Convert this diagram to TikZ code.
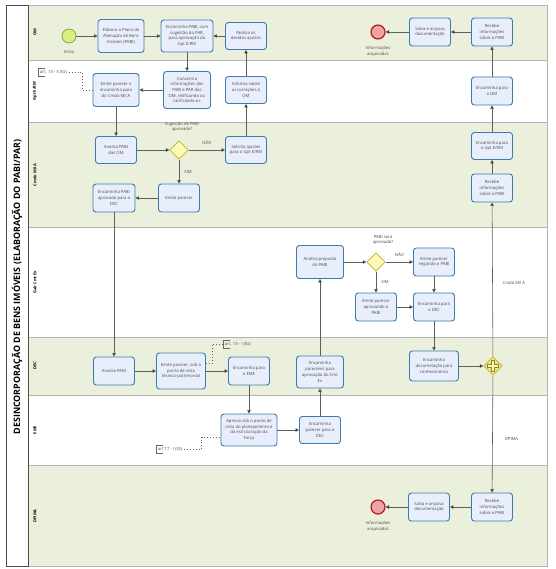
\documentclass[tikz,border=0pt]{standalone}
\usepackage{fontspec}
\setmainfont{Open Sans}
\usepackage{tikz}
\usetikzlibrary{arrows.meta,calc,positioning,shapes.geometric}
\definecolor{lanegreen}{HTML}{EBF0DD}
\definecolor{laneline}{HTML}{B4B4B4}
\definecolor{taskfill}{HTML}{E9EEFC}
\definecolor{taskline}{HTML}{3B7CAE}
\definecolor{gwfill}{HTML}{FCFAB4}
\definecolor{gwline}{HTML}{C2B12E}
\definecolor{startfill}{HTML}{D9F07E}
\definecolor{startline}{HTML}{7BA33A}
\definecolor{endfill}{HTML}{EFA3A3}
\definecolor{endline}{HTML}{B0191E}
\definecolor{flowline}{HTML}{5E5E5E}

\begin{document}
\begin{tikzpicture}[x=0.03cm,y=-0.03cm,
  lane/.style={draw=laneline,line width=0.5pt},
  lanelbl/.style={rotate=90,font=\bfseries\fontsize{3.4}{4}\selectfont},
  task/.style={draw=taskline,fill=taskfill,line width=0.8pt,rounded corners=2.5pt,align=center,
    minimum width=1.23cm,minimum height=0.84cm,inner sep=0.5pt,text=black!70,font=\fontsize{3.6}{4.9}\selectfont},
  gateway/.style={diamond,aspect=1,draw=gwline,fill=gwfill,line width=0.6pt,minimum size=0.56cm,inner sep=0pt},
  startev/.style={circle,draw=startline,fill=startfill,line width=0.6pt,minimum size=0.42cm,inner sep=0pt},
  endev/.style={circle,draw=endline,fill=endfill,line width=1pt,minimum size=0.42cm,inner sep=0pt},
  small/.style={text=black!70,align=center,font=\fontsize{3.6}{4.9}\selectfont},
  flow/.style={draw=flowline,line width=0.5pt,-{Triangle[length=3pt,width=3pt,fill=black]}},
  assoc/.style={draw=black!60,line width=0.5pt,dotted},
  annbr/.style={draw=black!60,line width=0.6pt},
  annot/.style={small,anchor=west,inner sep=1.5pt}]
\useasboundingbox (0,0) rectangle (555,569);
\fill[white] (0,0) rectangle (555,569);
\draw[lane,fill=lanegreen] (28,5) rectangle (547,60);
\draw[lane,fill=white] (28,60) rectangle (547,122);
\draw[lane,fill=lanegreen] (28,122) rectangle (547,227);
\draw[lane,fill=white] (28,227) rectangle (547,337);
\draw[lane,fill=lanegreen] (28,337) rectangle (547,395);
\draw[lane,fill=white] (28,395) rectangle (547,465);
\draw[lane,fill=lanegreen] (28,465) rectangle (547,566);
\draw[black!70,line width=0.6pt] (6,5) rectangle (28,566);
\node[rotate=90,font=\bfseries\fontsize{7.6}{9}\selectfont] (title) at (17,287) {DESINCORPORAÇÃO DE BENS IMÓVEIS (ELABORAÇÃO DO PABI/PAR)};
\node[lanelbl] (lom) at (35,32) {OM};
\node[lanelbl] (lgpt) at (35,91) {Gpt E/RM};
\node[lanelbl] (lcmdo) at (35,175) {Cmdo Mil A};
\node[lanelbl] (lgab) at (35,282) {Gab Cmt Ex};
\node[lanelbl] (ldec) at (35,366) {DEC};
\node[lanelbl] (leme) at (35,430) {EME};
\node[lanelbl] (ldpima) at (35,516) {DPIMA};

\node[startev] (inicio) at (69,36) {};
\node[small,below=2pt of inicio] {Início};
\node[task,minimum width=1.38cm,minimum height=0.99cm] (elab) at (121,36) {Elabora o Plano de\\Alienação de Bens\\Imóveis (PABI)};
\node[task,minimum width=1.56cm,minimum height=0.96cm] (encpabi) at (187,36) {Encaminha PABI, com\\sugestão do PAR,\\para aprovação do\\Gpt E/RM};
\node[task,minimum height=0.81cm] (realiza) at (246,36) {Realiza os\\devidos ajustes};
\node[task] (salvaom) at (430,32) {Salva e arquiva\\documentação};
\node[task] (recebeom) at (492,32) {Recebe\\informações\\sobre o PABI};
\node[endev] (fimom) at (378,32) {};
\node[small,below=2pt of fimom] {Informações\\arquivadas};

\node[task,minimum width=1.41cm,minimum height=1.11cm] (concentra) at (187,90) {Concentra\\informações dos\\PABI e PAR das\\OM, retificando ou\\ratificando-os};
\node[task,minimum width=1.38cm,minimum height=0.99cm] (emitegpt) at (116,90) {Emite parecer e\\encaminha para\\do Cmdo Mil A};
\node[task,minimum height=0.81cm] (informa) at (246,90) {Informa sobre\\as correções à\\OM};
\node[task] (encom) at (492,91) {Encaminha para\\a OM};
\node[annot] (a13) at (38,72.5) {art. 13 - X (IG)};
\draw[annbr] ($(a13.north west)+(7,0)$) -- (a13.north west) -- (a13.south west) -- ++(7,0);

\node[task,minimum height=0.81cm] (analisaom) at (116,150) {Analisa PABI\\das OM};
\node[gateway] (gw1) at (179,150) {};
\node[small] (q1) at (182,127) {Sugestão de PABI\\aprovada?};
\node[task,minimum height=0.81cm] (solicita) at (246,150) {Solicita ajustes\\para o Gpt E/RM};
\node[task] (emitepar) at (179,198) {Emite parecer};
\node[task,minimum width=1.26cm] (encaprov) at (114,198) {Encaminha PABI\\aprovado para o\\DEC};
\node[task,minimum height=0.81cm] (encgpt) at (492,146) {Encaminha para\\o Gpt E/RM};
\node[task] (recebecmdo) at (492,188) {Recebe\\informações\\sobre o PABI};

\node[task,minimum width=1.41cm,minimum height=0.99cm] (analisaprop) at (320,262) {Analisa proposta\\do PABI};
\node[gateway] (gw2) at (376,262) {};
\node[small] (q2) at (383,240) {PABI será\\aprovado?};
\node[task] (negando) at (434,262) {Emite parecer\\negando o PABI};
\node[task] (aprovando) at (376,307) {Emite parecer\\aprovando o\\PABI};
\node[task] (encdec) at (434,307) {Encaminha para\\o DEC};

\node[task] (analisadec) at (114,371) {Analisa PABI};
\node[task,minimum width=1.47cm,minimum height=1.08cm] (emitetec) at (181,371) {Emite parecer, sob o\\ponto de vista\\técnico-patrimonial};
\node[task] (enceme) at (249,371) {Encaminha para\\o EME};
\node[annot] (a15) at (223,344) {art. 15 - I (IG)};
\draw[annbr] ($(a15.north west)+(7,0)$) -- (a15.north west) -- (a15.south west) -- ++(7,0);
\node[task,minimum width=1.41cm,minimum height=0.96cm] (encpareceres) at (320,372) {Encaminha\\pareceres para\\aprovação do Cmt\\Ex};
\node[task,minimum width=1.47cm,minimum height=0.9cm] (encdoc) at (434,366) {Encaminha\\documetação para\\conhecimento};
\node[gateway,fill=gwfill!70!gwline] (plusgw) at (493,366) {};
\draw[gwline!75!black,line width=3pt] ($(plusgw)+(-6,0)$) -- ($(plusgw)+(6,0)$) ($(plusgw)+(0,-6)$) -- ($(plusgw)+(0,6)$);
\draw[gwfill,line width=1.5pt] ($(plusgw)+(-5,0)$) -- ($(plusgw)+(5,0)$) ($(plusgw)+(0,-5)$) -- ($(plusgw)+(0,5)$);

\node[task,minimum width=1.68cm,minimum height=0.96cm] (aprecia) at (249,430) {Aprecia sob o ponto de\\vista do planejamento e\\da estruturação da\\Força};
\node[task,minimum height=0.81cm] (encpardec) at (320,430) {Encaminha\\parecer para o\\DEC};
\node[annot] (a17) at (156,449) {art 17 - I (IG)};
\draw[annbr] ($(a17.north west)+(7,0)$) -- (a17.north west) -- (a17.south west) -- ++(7,0);

\node[task] (recebedp) at (492,507) {Recebe\\informações\\sobre o PABI};
\node[task] (salvadp) at (429,507) {Salva e arquiva\\documentação};
\node[endev] (fimdp) at (378,507) {};
\node[small,below=2pt of fimdp] {Informações\\arquivadas};

\draw[flow] (inicio) -- (elab);
\draw[flow] (elab) -- (encpabi);
\draw[flow] (realiza) -- (encpabi);
\draw[flow] (encpabi) -- (concentra);
\draw[flow] (concentra) -- (emitegpt);
\draw[flow] (informa) -- (realiza);
\draw[flow] (emitegpt) -- (analisaom);
\draw[flow] (analisaom) -- (gw1);
\draw[flow] (gw1) -- node[small,above=1pt] {NÃO} (solicita);
\draw[flow] (gw1) -- node[small,right=1pt] {SIM} (emitepar);
\draw[flow] (solicita) -- (informa);
\draw[flow] (emitepar) -- (encaprov);
\draw[flow] (encaprov) -- (analisadec);
\draw[flow] (analisadec) -- (emitetec);
\draw[flow] (emitetec) -- (enceme);
\draw[flow] (enceme) -- (aprecia);
\draw[flow] (aprecia) -- (encpardec);
\draw[flow] (encpardec) -- (encpareceres);
\draw[flow] (encpareceres) -- (analisaprop);
\draw[flow] (analisaprop) -- (gw2);
\draw[flow] (gw2) -- node[small,above=1pt] {NÃO} (negando);
\draw[flow] (gw2) -- node[small,right=1pt] {SIM} (aprovando);
\draw[flow] (aprovando) -- (encdec);
\draw[flow] (negando) -- (encdec);
\draw[flow] (encdec) -- (encdoc);
\draw[flow] (encdoc) -- (plusgw);
\draw[flow] (plusgw) -- node[small,pos=0.48,right=5pt] {Cmdo Mil A} (recebecmdo);
\draw[flow] (plusgw) -- node[small,pos=0.54,right=7pt] {DPIMA} (recebedp);
\draw[flow] (recebecmdo) -- (encgpt);
\draw[flow] (encgpt) -- (encom);
\draw[flow] (encom) -- (recebeom);
\draw[flow] (recebeom) -- (salvaom);
\draw[flow] (salvaom) -- (fimom);
\draw[flow] (recebedp) -- (salvadp);
\draw[flow] (salvadp) -- (fimdp);
\draw[assoc] (a13.east) -| ($(emitegpt.west)+(-10,0)$) -- (emitegpt.west);
\draw[assoc] ($(emitetec.east)+(0,-8)$) -- ++(6,0) |- (a15.west);
\draw[assoc] (a17.east) -| ($(aprecia.west)+(-19,7)$) -- ($(aprecia.west)+(0,7)$);
\end{tikzpicture}
\end{document}
